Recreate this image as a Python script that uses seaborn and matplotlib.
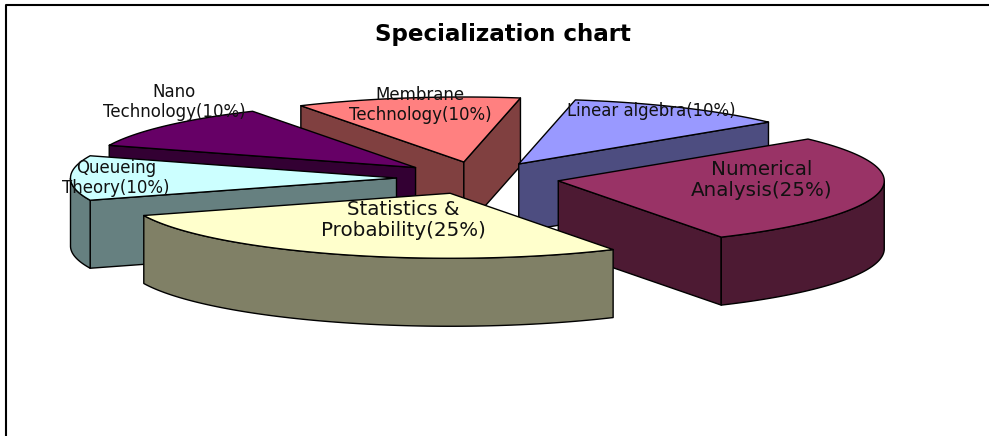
import numpy as np
import matplotlib
matplotlib.use("Agg")
import matplotlib.pyplot as plt
import seaborn as sns
from matplotlib.patches import Polygon

categories = ["Numerical\nAnalysis(25%)", "Statistics &\nProbability(25%)", "Queueing\nTheory(10%)",
              "Nano\nTechnology(10%)", "Membrane\nTechnology(10%)", "Linear algebra(10%)"]
values = [25, 25, 10, 10, 10, 10]
top_colors = ["#993366", "#FFFFCC", "#CCFFFF", "#660066", "#FF8080", "#9999FF"]
wall_colors = ["#4D1A33", "#808066", "#668080", "#330033", "#804040", "#4D4D80"]
title = "Specialization chart"

sns.set_theme(style="white")
plt.rcParams["font.family"] = ["DejaVu Sans", "Liberation Sans"]

CX, CY, RX, RY, TH, EXPLODE, START = 478, 178, 326, 65, 68, 0.25, 40
DRAW_ORDER = [4, 5, 3, 2, 0, 1]
LABEL_XY = [(762, 180), (403, 220), (116, 178), (174, 102), (420, 105), (651, 111)]
LABEL_SIZE = [14.3, 14.3, 12, 12, 12, 11.9]

def proj(x, y, z=0.0):
    x, y = np.asarray(x, float), np.asarray(y, float)
    return CX + RX * x, CY - RY * y + TH * z

fig = plt.figure(figsize=(9.89, 4.36), dpi=100)
ax = fig.add_axes([0, 0, 1, 1])
ax.set_xlim(0, 989); ax.set_ylim(436, 0); ax.axis("off")
ax.plot([5.5, 5.5, 995], [440, 5.5, 5.5], color="black", lw=1.5)

frac = np.array(values) / sum(values) * 360
ends = START - np.cumsum(frac)
starts = ends + frac

def poly(px, py, color):
    ax.add_patch(Polygon(np.c_[px, py], closed=True, fc=color, ec="black", lw=1.0, joinstyle="round"))

for i in DRAW_ORDER:
    a0, a1 = np.radians(starts[i]), np.radians(ends[i])
    mid = (a0 + a1) / 2
    ox, oy = EXPLODE * np.cos(mid), EXPLODE * np.sin(mid)
    t = np.linspace(a0, a1, 80)
    x, y = ox + np.cos(t), oy + np.sin(t)
    # radial walls, only those facing the viewer
    for a, normal in ((a0, a0 + np.pi / 2), (a1, a1 - np.pi / 2)):
        if np.sin(normal) < 0:
            ex, ey = ox + np.cos(a), oy + np.sin(a)
            p0 = proj([ox, ex], [oy, ey], 0); p1 = proj([ex, ox], [ey, oy], 1)
            poly(np.r_[p0[0], p1[0]], np.r_[p0[1], p1[1]], wall_colors[i])
    # outer wall: only the front-facing part
    mask = np.sin(t) <= 0
    if mask.any():
        p0 = proj(x[mask], y[mask], 0); p1 = proj(x[mask][::-1], y[mask][::-1], 1)
        poly(np.r_[p0[0], p1[0]], np.r_[p0[1], p1[1]], wall_colors[i])
    # top face
    px, py = proj(np.r_[ox, x], np.r_[oy, y], 0)
    poly(px, py, top_colors[i])

for name, (lx, ly), fs in zip(categories, LABEL_XY, LABEL_SIZE):
    ax.text(lx, ly, name, ha="center", va="center", fontsize=fs, color="#111111", linespacing=1.15)

ax.text(503, 34, title, ha="center", va="center", fontsize=16.6, fontweight="bold", color="black")
fig.savefig("out.png", dpi=100)
